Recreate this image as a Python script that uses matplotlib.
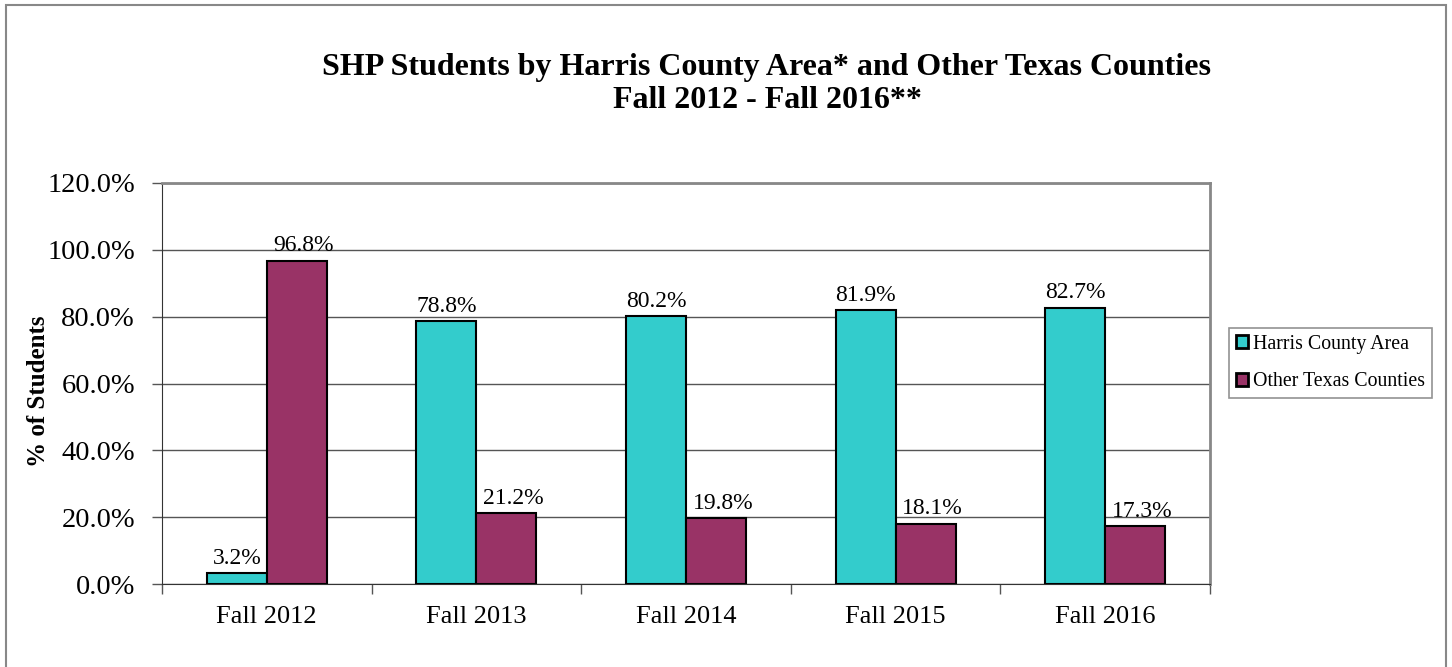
import numpy as np
import matplotlib.pyplot as plt
from matplotlib.patches import Rectangle

categories = ['Fall 2012', 'Fall 2013', 'Fall 2014', 'Fall 2015', 'Fall 2016']
harris = [3.2, 78.8, 80.2, 81.9, 82.7]
other = [96.8, 21.2, 19.8, 18.1, 17.3]
series_names = ['Harris County Area', 'Other Texas Counties']
yticks = [0, 20, 40, 60, 80, 100, 120]

CYAN = '#33CCCC'
MAROON = '#993366'

plt.rcParams['font.family'] = ['Liberation Serif', 'DejaVu Serif']

W, H = 1452, 667
fig = plt.figure(figsize=(W / 100, H / 100), dpi=100)

# outer chart border
fig.patches.append(Rectangle((6 / W, -0.01), 1440 / W, (H - 5) / H + 0.01,
                             transform=fig.transFigure, fill=False,
                             edgecolor='#888888', linewidth=1.5))

ax = fig.add_axes([162 / W, 1 - 584 / H, (1210 - 162) / W, (584 - 183) / H])

x = np.arange(len(categories))
bw = 0.286
b1 = ax.bar(x - bw / 2, harris, bw, color=CYAN, edgecolor='black', linewidth=1.5,
            label=series_names[0], zorder=3)
b2 = ax.bar(x + bw / 2, other, bw, color=MAROON, edgecolor='black', linewidth=1.5,
            label=series_names[1], zorder=3)

for bars, vals, dx in ((b1, harris, 0), (b2, other, 5)):
    for b, v in zip(bars, vals):
        ax.annotate(f'{v:.1f}%', (b.get_x() + b.get_width() / 2, v),
                    xytext=(dx, 3), textcoords='offset points',
                    ha='center', va='bottom', fontsize=17, zorder=4)

ax.set_xlim(-0.5, len(categories) - 0.5)
ax.set_ylim(0, 120)
ax.set_yticks(yticks)
ax.set_yticklabels([f'{v:.1f}%' for v in yticks], fontsize=20.5)
ax.yaxis.grid(True, color='#555555', linewidth=1)
ax.set_axisbelow(True)

ax.set_xticks(x)
ax.set_xticklabels(categories, fontsize=19)
ax.set_xticks(np.arange(len(categories) + 1) - 0.5, minor=True)
ax.tick_params(axis='x', which='major', length=0, pad=16)
ax.tick_params(axis='x', which='minor', length=7, width=1, color='#555555')
ax.tick_params(axis='y', length=7, width=1, pad=12.5, color='#555555')

for s in ('top', 'right'):
    ax.spines[s].set_color('#888888')
    ax.spines[s].set_linewidth(2)
ax.spines['left'].set_color('#333333')
ax.spines['bottom'].set_color('#333333')

# y-axis title placed where the original sits
fig.text(39 / W, 1 - 391 / H, '% of Students', rotation=90,
         ha='center', va='center', fontsize=18, fontweight='bold')

fig.text(767 / W, 1 - 67 / H, 'SHP Students by Harris County Area* and Other Texas Counties',
         ha='center', va='center', fontsize=23, fontweight='bold')
fig.text(767 / W, 1 - 100 / H, 'Fall 2012 - Fall 2016**',
         ha='center', va='center', fontsize=23, fontweight='bold')

leg = fig.legend(handles=[b1, b2], loc='center left',
                 bbox_to_anchor=(1229 / W, 1 - 363 / H), fontsize=14.3,
                 frameon=True, fancybox=False, edgecolor='#777777',
                 handlelength=0.6, handleheight=0.6, handletextpad=0.25,
                 labelspacing=0.95, borderpad=0.35, borderaxespad=0)
leg.get_frame().set_linewidth(1.2)
for p in leg.get_patches():
    p.set_linewidth(2)

fig.savefig('out.png', dpi=100)
